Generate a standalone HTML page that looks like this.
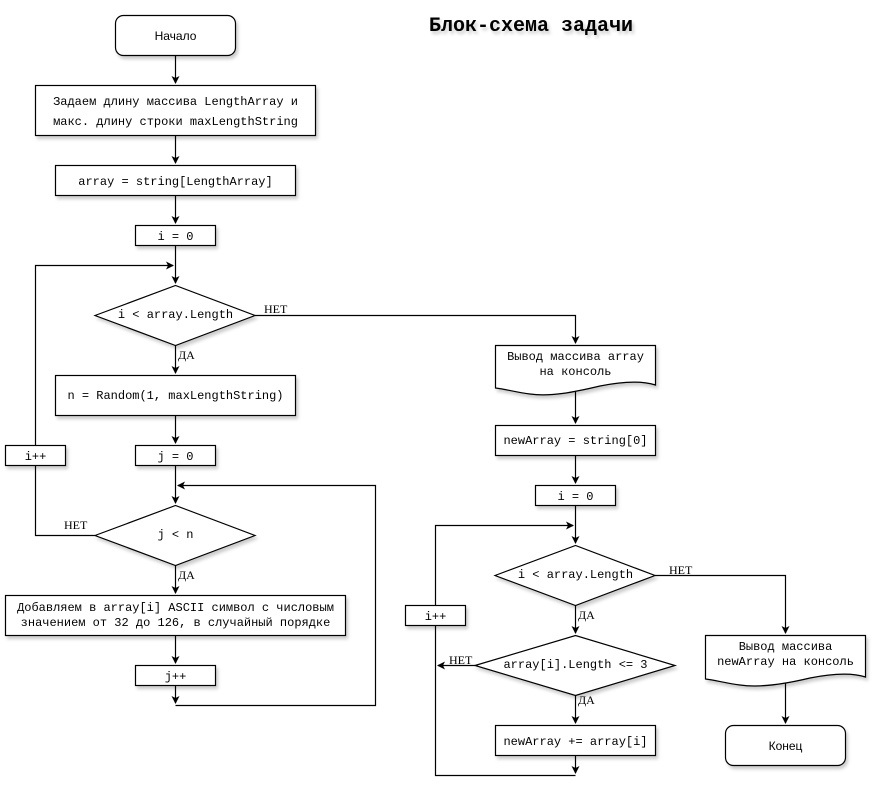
<!DOCTYPE html>
<html><head><meta charset="utf-8"><style>
html,body{margin:0;padding:0;background:#fff;}
svg{display:block;}
text{font-family:"Liberation Mono","DejaVu Sans Mono",monospace;font-size:12px;fill:#000;}
.s{font-family:"Liberation Sans","DejaVu Sans",sans-serif;}
.l{font-family:"Liberation Serif","DejaVu Serif",serif;font-size:12px;}
</style></head><body>
<svg width="877" height="795" viewBox="0 0 877 795" xmlns="http://www.w3.org/2000/svg">
<defs>
<marker id="a" markerWidth="10" markerHeight="10" refX="7" refY="4" orient="auto" markerUnits="userSpaceOnUse">
<path d="M0,0 L8,4 L0,8 L2,4 z" fill="#000"/></marker>
<filter id="sh" x="-10%" y="-10%" width="130%" height="150%"><feDropShadow dx="2" dy="3" stdDeviation="1.5" flood-color="#000" flood-opacity="0.2"/></filter>
</defs>
<g fill="none" stroke="#000" stroke-width="1.2">
<path d="M175.5,55 V83" marker-end="url(#a)"/>
<path d="M175.5,135 V163" marker-end="url(#a)"/>
<path d="M175.5,195 V223" marker-end="url(#a)"/>
<path d="M175.5,245 V283" marker-end="url(#a)"/>
<path d="M35.5,445 V265.5 H173" marker-end="url(#a)"/>
<path d="M95,535.5 H35.5 V465"/>
<path d="M255,315.5 H575.5 V343" marker-end="url(#a)"/>
<path d="M175.5,345 V373" marker-end="url(#a)"/>
<path d="M175.5,415 V443" marker-end="url(#a)"/>
<path d="M175.5,465 V503" marker-end="url(#a)"/>
<path d="M175.5,705.5 H375.5 V485.5 H178" marker-end="url(#a)"/>
<path d="M175.5,565 V593" marker-end="url(#a)"/>
<path d="M175.5,635 V663" marker-end="url(#a)"/>
<path d="M175.5,685 V703" marker-end="url(#a)"/>
<path d="M575.5,387 V423" marker-end="url(#a)"/>
<path d="M575.5,455 V483" marker-end="url(#a)"/>
<path d="M575.5,505 V543" marker-end="url(#a)"/>
<path d="M435.5,605 V525.5 H573" marker-end="url(#a)"/>
<path d="M655,575.5 H785.5 V633" marker-end="url(#a)"/>
<path d="M575.5,605 V633" marker-end="url(#a)"/>
<path d="M475,665.5 H438" marker-end="url(#a)"/>
<path d="M575.5,695 V723" marker-end="url(#a)"/>
<path d="M575.5,755 V773" marker-end="url(#a)"/>
<path d="M575.5,775.5 H435.5 V625"/>
<path d="M785.5,680 V723" marker-end="url(#a)"/>
</g>
<g fill="#fff" stroke="#000" stroke-width="1.2" filter="url(#sh)">
<rect x="115.5" y="15.5" width="120" height="40" rx="8"/>
<rect x="35.5" y="85.5" width="280" height="50"/>
<rect x="55.5" y="165.5" width="240" height="30"/>
<rect x="135.5" y="225.5" width="80" height="20"/>
<polygon points="95,315.5 175.5,285.5 255,315.5 175.5,345.5"/>
<rect x="55.5" y="375.5" width="240" height="40"/>
<rect x="5.5" y="445.5" width="60" height="20"/>
<rect x="135.5" y="445.5" width="80" height="20"/>
<polygon points="95,535.5 175.5,505.5 255,535.5 175.5,565.5"/>
<rect x="5.5" y="595.5" width="340" height="40"/>
<rect x="135.5" y="665.5" width="80" height="20"/>
<path d="M495.5,345.5 H655.5 V385 C640,380 620,382 600,386 C575,392 550,397 530,394 C515,392 505,389 495.5,388 Z"/>
<rect x="495.5" y="425.5" width="160" height="30"/>
<rect x="535.5" y="485.5" width="80" height="20"/>
<polygon points="495,575.5 575.5,545.5 655,575.5 575.5,605.5"/>
<rect x="405.5" y="605.5" width="60" height="20"/>
<polygon points="475,665.5 575.5,635.5 675,665.5 575.5,695.5"/>
<rect x="495.5" y="725.5" width="160" height="30"/>
<path d="M705.5,635.5 H865.5 V677 C850,672 830,674 810,678 C785,684 760,688 740,685 C725,683 715,680 705.5,679 Z"/>
<rect x="725.5" y="725.5" width="120" height="40" rx="8"/>
</g>
<g text-anchor="middle">
<text class="s" x="175.5" y="40">Начало</text>
<text x="175.5" y="105">Задаем длину массива LengthArray и</text>
<text x="175.5" y="125">макс. длину строки maxLengthString</text>
<text x="175.5" y="185">array = string[LengthArray]</text>
<text x="175.5" y="240">i = 0</text>
<text x="175.5" y="318">i &lt; array.Length</text>
<text x="175.5" y="399">n = Random(1, maxLengthString)</text>
<text x="35.5" y="460">i++</text>
<text x="175.5" y="460">j = 0</text>
<text x="175.5" y="538">j &lt; n</text>
<text x="175.5" y="611">Добавляем в array[i] ASCII символ с числовым</text>
<text x="175.5" y="626">значением от 32 до 126, в случайный порядке</text>
<text x="175.5" y="680">j++</text>
<text x="575.5" y="360">Вывод массива array</text>
<text x="575.5" y="375">на консоль</text>
<text x="575.5" y="444">newArray = string[0]</text>
<text x="575.5" y="500">i = 0</text>
<text x="575.5" y="578">i &lt; array.Length</text>
<text x="435.5" y="620">i++</text>
<text x="575.5" y="668">array[i].Length &lt;= 3</text>
<text x="575.5" y="745">newArray += array[i]</text>
<text x="785.5" y="650">Вывод массива</text>
<text x="785.5" y="665">newArray на консоль</text>
<text class="s" x="785.5" y="750">Конец</text>
</g>
<text class="l" x="264" y="313">НЕТ</text>
<text class="l" x="178" y="359">ДА</text>
<text class="l" x="64" y="529">НЕТ</text>
<text class="l" x="178" y="579">ДА</text>
<text class="l" x="669" y="574">НЕТ</text>
<text class="l" x="578" y="619">ДА</text>
<text class="l" x="449" y="664">НЕТ</text>
<text class="l" x="578" y="704">ДА</text>
<text x="429" y="31" style="font-size:20px;font-weight:bold;filter:url(#sh)">Блок-схема задачи</text>
</svg>
</body></html>
